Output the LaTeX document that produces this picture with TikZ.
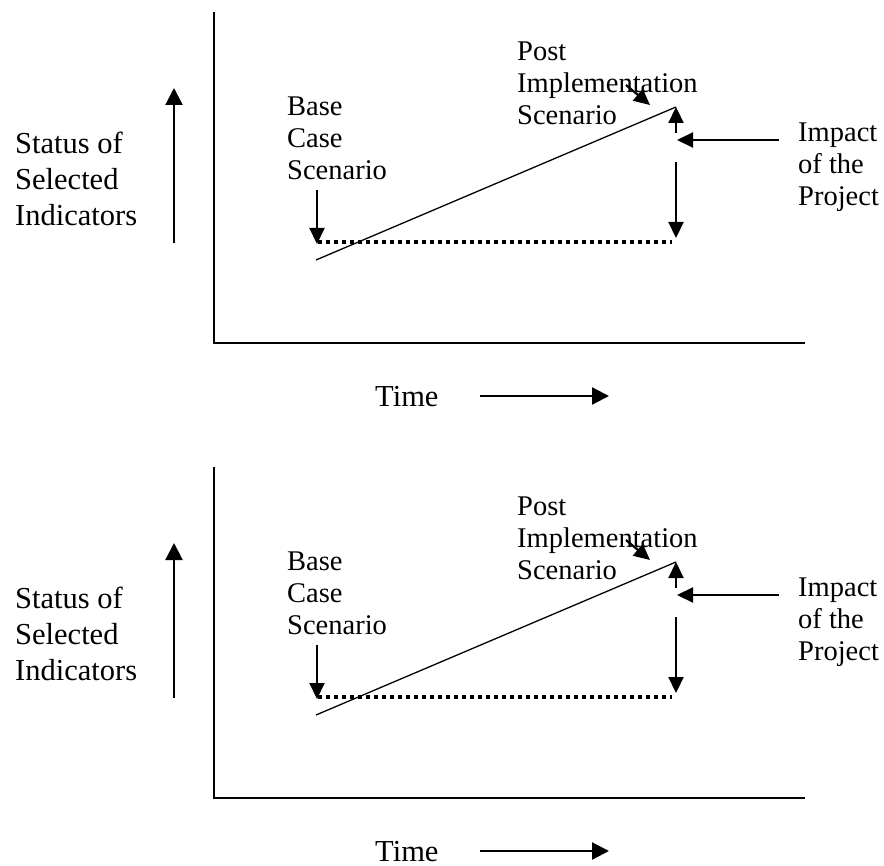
\documentclass[tikz,border=0pt]{standalone}
\usepackage{fontspec}
\setmainfont{Liberation Serif}
\usetikzlibrary{arrows.meta}
\begin{document}
\begin{tikzpicture}[x=1pt,y=-1pt,
  big/.style={font=\fontsize{30.5}{36}\selectfont, align=left, inner sep=0pt, anchor=west},
  small/.style={font=\fontsize{28.5}{32}\selectfont, align=left, inner sep=0pt, anchor=west},
  axisline/.style={line width=1.6pt},
  arr/.style={line width=2.2pt, -{Triangle[length=16pt,width=15pt]}},
  bigarr/.style={line width=2.2pt, -{Triangle[length=17pt,width=17pt]}},
  dotline/.style={line width=4.2pt, dash pattern=on 4pt off 4pt},
  trend/.style={line width=1.3pt}]
\useasboundingbox (0,0) rectangle (884,866);
\foreach \p/\dy in {a/0,b/455}{
\begin{scope}[yshift=-\dy pt]
  % axes
  \coordinate (\p-top) at (214,12);
  \coordinate (\p-origin) at (214,343);
  \coordinate (\p-xend) at (805,343);
  \draw[axisline] (\p-top) -- (\p-origin) -- (\p-xend);
  % y label and arrow
  \node[big] (\p-status) at (15,179) {Status of\\Selected\\Indicators};
  \coordinate (\p-ya) at (174,243);
  \coordinate (\p-yb) at (174,88);
  \draw[bigarr] (\p-ya) -- (\p-yb);
  % x label and arrow
  \node[big] (\p-time) at (375,397) {Time};
  \coordinate (\p-xa) at (480,396);
  \coordinate (\p-xb) at (609,396);
  \draw[bigarr] (\p-xa) -- (\p-xb);
  % base case
  \node[small] (\p-base) at (287,138) {Base\\Case\\Scenario};
  \coordinate (\p-b1) at (317,190);
  \coordinate (\p-b2) at (317,244);
  \draw[arr] (\p-b1) -- (\p-b2);
  \coordinate (\p-d1) at (318,242);
  \coordinate (\p-d2) at (672,242);
  \draw[dotline] (\p-d1) -- (\p-d2);
  % trend line
  \coordinate (\p-t1) at (316,260);
  \coordinate (\p-t2) at (676,107);
  \draw[trend] (\p-t1) -- (\p-t2);
  % post implementation
  \node[small] (\p-post) at (517,83) {Post\\Implementation\\Scenario};
  \coordinate (\p-p1) at (626,85);
  \coordinate (\p-p2) at (650,105);
  \draw[arr] (\p-p1) -- (\p-p2);
  % impact arrows
  \coordinate (\p-u1) at (676,133);
  \coordinate (\p-u2) at (676,107);
  \draw[arr] (\p-u1) -- (\p-u2);
  \coordinate (\p-l1) at (779,140);
  \coordinate (\p-l2) at (677,140);
  \draw[arr] (\p-l1) -- (\p-l2);
  \coordinate (\p-v1) at (676,162);
  \coordinate (\p-v2) at (676,238);
  \draw[arr] (\p-v1) -- (\p-v2);
  \node[small] (\p-impact) at (798,167) {Impact\\of the\\Project};
\end{scope}
}
\end{tikzpicture}
\end{document}
